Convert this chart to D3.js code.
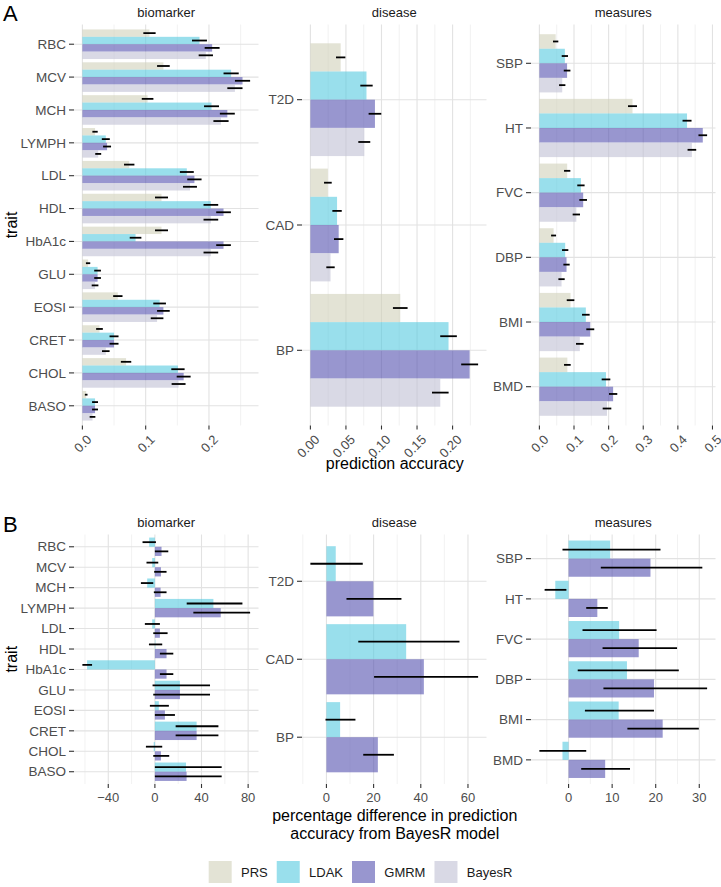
<!DOCTYPE html>
<html>
<head>
<meta charset="utf-8">
<script src="https://cdn.jsdelivr.net/npm/d3@7"></script>
<style>
  body { margin: 0; background: #fff; }
  text { font-family: "Liberation Sans", Arial, sans-serif; }
</style>
</head>
<body>
<svg id="chart" width="721" height="887"></svg>
<script>
// trait categories, top to bottom as shown
const bioTraits = ["RBC", "MCV", "MCH", "LYMPH", "LDL", "HDL", "HbA1c", "GLU", "EOSI", "CRET", "CHOL", "BASO"];
const diseaseTraits = ["T2D", "CAD", "BP"];
const measureTraits = ["SBP", "HT", "FVC", "DBP", "BMI", "BMD"];
const methods = ["PRS", "LDAK", "GMRM", "BayesR"];
const diffMethods = ["LDAK", "GMRM"];

// Panel A: prediction accuracy, one row per trait: [PRS, LDAK, GMRM, BayesR]
const bioAcc = [
  [0.106, 0.185, 0.205, 0.195], [0.128, 0.235, 0.253, 0.241], [0.103, 0.204, 0.229, 0.219],
  [0.020, 0.037, 0.039, 0.025], [0.074, 0.165, 0.177, 0.170], [0.125, 0.203, 0.223, 0.203],
  [0.125, 0.084, 0.223, 0.203], [0.009, 0.024, 0.024, 0.020], [0.056, 0.122, 0.128, 0.118],
  [0.027, 0.050, 0.050, 0.037], [0.069, 0.151, 0.160, 0.152], [0.006, 0.020, 0.020, 0.016]
];
const bioErr = [
  [0.0097, 0.0118, 0.0118, 0.0113], [0.010, 0.012, 0.012, 0.012], [0.0092, 0.0118, 0.0118, 0.012],
  [0.0042, 0.0063, 0.0063, 0.0047], [0.0082, 0.011, 0.0113, 0.011], [0.0103, 0.0116, 0.0116, 0.0116],
  [0.0103, 0.0092, 0.0116, 0.0116], [0.0034, 0.0053, 0.0053, 0.0053], [0.0074, 0.010, 0.010, 0.010],
  [0.0053, 0.0071, 0.0071, 0.006], [0.0082, 0.0105, 0.011, 0.011], [0.0021, 0.0047, 0.0047, 0.0045]
];
const diseaseAcc = [[0.0426, 0.0789, 0.0908, 0.0758], [0.0246, 0.0375, 0.0398, 0.0283], [0.1264, 0.1943, 0.224, 0.1827]];
const diseaseErr = [[0.0066, 0.0087, 0.0089, 0.0084], [0.0054, 0.0066, 0.0066, 0.0059], [0.0103, 0.0117, 0.0119, 0.0117]];
const measureAcc = [
  [0.047, 0.0736, 0.080, 0.066], [0.269, 0.4265, 0.472, 0.4405], [0.0803, 0.120, 0.1265, 0.1067],
  [0.041, 0.0745, 0.0784, 0.064], [0.090, 0.1342, 0.147, 0.1168], [0.0808, 0.1924, 0.213, 0.1953]
];
const measureErr = [
  [0.0077, 0.0091, 0.0096, 0.0091], [0.013, 0.013, 0.0125, 0.0125], [0.0091, 0.0106, 0.011, 0.0106],
  [0.0072, 0.0091, 0.0091, 0.0091], [0.011, 0.011, 0.0115, 0.011], [0.0096, 0.0125, 0.012, 0.0125]
];

// Panel B: % difference from BayesR, rows: [LDAK, GMRM], plus interval low / high
const bioDiff = [[-4.9, 5.7], [-2.3, 5.2], [-6.6, 4.9], [50.2, 56.5], [-2.3, 4.3], [0.4, 10],
  [-58.2, 10], [21.5, 21.5], [3.4, 8.6], [35.8, 35.8], [-1, 5.2], [26.7, 27.2]];
const bioDiffLo = [[-10.6, 0], [-7.2, -0.6], [-12, -0.9], [27.3, 33], [-8.6, -1.4], [-5.1, 4.3],
  [-62.2, 4.3], [-2, -1.4], [-4.3, 0], [17.8, 17.8], [-7.7, -1.4], [0, 0]];
const bioDiffHi = [[0.9, 11.5], [2.9, 10], [-1.4, 10], [75.1, 81.7], [4.3, 10.9], [6.3, 15.8],
  [-53.9, 15.8], [47.3, 47.3], [12, 17.2], [54.5, 54.5], [6.3, 12.3], [57.3, 57.3]];
const diseaseDiff = [[3.95, 19.9], [33.8, 41.3], [5.8, 21.8]];
const diseaseDiffLo = [[-6.8, 8.5], [13.5, 20.2], [-0.4, 15.6]];
const diseaseDiffHi = [[15.4, 31.8], [56.4, 64.3], [12.3, 28.6]];
const measureDiff = [[9.55, 18.8], [-3.05, 6.6], [11.6, 16.1], [13.4, 19.6], [11.5, 21.6], [-1.4, 8.4]];
const measureDiffLo = [[-1.4, 7.4], [-5.5, 4.05], [3.2, 7.8], [2.1, 8.0], [3.75, 13.5], [-6.7, 2.9]];
const measureDiffHi = [[21.1, 30.7], [-0.5, 9.0], [20.2, 24.9], [25.3, 31.8], [19.6, 29.9], [4.05, 14.1]];

// tick labels
const bioTicksA = [0, 0.1, 0.2];
const diseaseTicksA = [0, 0.05, 0.1, 0.15, 0.2];
const measureTicksA = [0, 0.1, 0.2, 0.3, 0.4, 0.5];
const bioTicksB = [-40, 0, 40, 80];
const diseaseTicksB = [0, 20, 40, 60];
const measureTicksB = [0, 10, 20, 30];

const colors = { PRS: "#d0d0b9", LDAK: "#55cadf", GMRM: "#5350af", BayesR: "#c0c0d4" };
const barOpacity = 0.6;

const svg = d3.select("#chart");
const colX = [74, 302, 531];
const panelW = 184.5;
const rowA = { top: 24.5, bottom: 425.5 };
const rowB = { top: 534.5, bottom: 784 };

function addErr(vals, errs, sign) {
  return vals.map((r, i) => r.map((v, j) => v + sign * errs[i][j]));
}

function drawPanel(cfg) {
  const g = svg.append("g");
  const y = d3.scalePoint().domain(cfg.traits).range([cfg.top, cfg.bottom]).padding(0.6);
  const step = y.step();
  const inner = d3.scaleBand().domain(cfg.keys).range([-0.45 * step, 0.45 * step]);
  const lo = Math.min(0, d3.min(cfg.lo.flat()));
  const hi = d3.max(cfg.hi.flat());
  const pad = (hi - lo) * 0.05;
  const x = d3.scaleLinear().domain([lo - pad, hi + pad]).range([cfg.left, cfg.left + panelW]);
  const [d0, d1] = x.domain();

  // grid
  const t = cfg.ticks, dt = t[1] - t[0];
  const minor = d3.range(t[0] - dt / 2, d1, dt).filter(v => v > d0);
  g.selectAll(".minor").data(minor).join("line")
    .attr("x1", d => x(d)).attr("x2", d => x(d))
    .attr("y1", cfg.top).attr("y2", cfg.bottom)
    .attr("stroke", "#e9e9e9").attr("stroke-width", 0.6);
  g.selectAll(".major").data(t).join("line")
    .attr("x1", d => x(d)).attr("x2", d => x(d))
    .attr("y1", cfg.top).attr("y2", cfg.bottom)
    .attr("stroke", "#e2e2e2").attr("stroke-width", 1.1);
  g.selectAll(".hgrid").data(cfg.traits).join("line")
    .attr("x1", cfg.left).attr("x2", cfg.left + panelW)
    .attr("y1", d => y(d)).attr("y2", d => y(d))
    .attr("stroke", "#e2e2e2").attr("stroke-width", 1.1);

  // bars
  const cells = [];
  cfg.traits.forEach((tr, i) => cfg.keys.forEach((k, j) => {
    cells.push({ tr, k, v: cfg.values[i][j], lo: cfg.lo[i][j], hi: cfg.hi[i][j] });
  }));
  g.selectAll(".bar").data(cells).join("rect")
    .attr("x", d => x(Math.min(0, d.v)))
    .attr("width", d => Math.abs(x(d.v) - x(0)))
    .attr("y", d => y(d.tr) + inner(d.k))
    .attr("height", inner.bandwidth())
    .attr("fill", d => colors[d.k]).attr("fill-opacity", barOpacity);
  g.selectAll(".err").data(cells).join("line")
    .attr("x1", d => x(d.lo)).attr("x2", d => x(d.hi))
    .attr("y1", d => y(d.tr) + inner(d.k) + inner.bandwidth() / 2)
    .attr("y2", d => y(d.tr) + inner(d.k) + inner.bandwidth() / 2)
    .attr("stroke", "#000").attr("stroke-width", 1.8);

  // y axis
  g.selectAll(".ytick").data(cfg.traits).join("line")
    .attr("x1", cfg.left - 5).attr("x2", cfg.left)
    .attr("y1", d => y(d)).attr("y2", d => y(d))
    .attr("stroke", "#333").attr("stroke-width", 1.1);
  g.selectAll(".ylab").data(cfg.traits).join("text")
    .attr("x", cfg.left - 8).attr("y", d => y(d)).attr("dy", "0.35em")
    .attr("text-anchor", "end").attr("font-size", 13.5).attr("fill", "#4d4d4d")
    .text(d => d);

  // x axis
  g.selectAll(".xtick").data(t).join("line")
    .attr("x1", d => x(d)).attr("x2", d => x(d))
    .attr("y1", cfg.bottom).attr("y2", cfg.bottom + 4)
    .attr("stroke", "#333").attr("stroke-width", 1.1);
  const lab = g.selectAll(".xlab").data(t).join("text")
    .attr("font-size", 13).attr("fill", "#4d4d4d")
    .text(d => cfg.fmt(d));
  if (cfg.rotate) {
    lab.attr("text-anchor", "end")
      .attr("transform", d => `translate(${x(d) + 10},${cfg.bottom + 15}) rotate(-45)`);
  } else {
    lab.attr("text-anchor", "middle").attr("x", d => x(d)).attr("y", cfg.bottom + 17.5);
  }

  // strip
  g.append("text").attr("x", cfg.left + panelW / 2).attr("y", cfg.top - 8)
    .attr("text-anchor", "middle").attr("font-size", 13).attr("fill", "#1a1a1a")
    .text(cfg.strip);
}

const fmtMinus = f => v => d3.format(f)(v).replace("-", "\u2212");

drawPanel({ traits: bioTraits, keys: methods, values: bioAcc, lo: addErr(bioAcc, bioErr, -1), hi: addErr(bioAcc, bioErr, 1),
  left: colX[0], ...rowA, ticks: bioTicksA, fmt: d3.format(".1f"), rotate: true, strip: "biomarker" });
drawPanel({ traits: diseaseTraits, keys: methods, values: diseaseAcc, lo: addErr(diseaseAcc, diseaseErr, -1), hi: addErr(diseaseAcc, diseaseErr, 1),
  left: colX[1], ...rowA, ticks: diseaseTicksA, fmt: d3.format(".2f"), rotate: true, strip: "disease" });
drawPanel({ traits: measureTraits, keys: methods, values: measureAcc, lo: addErr(measureAcc, measureErr, -1), hi: addErr(measureAcc, measureErr, 1),
  left: colX[2], ...rowA, ticks: measureTicksA, fmt: d3.format(".1f"), rotate: true, strip: "measures" });

drawPanel({ traits: bioTraits, keys: diffMethods, values: bioDiff, lo: bioDiffLo, hi: bioDiffHi,
  left: colX[0], ...rowB, ticks: bioTicksB, fmt: fmtMinus("d"), rotate: false, strip: "biomarker" });
drawPanel({ traits: diseaseTraits, keys: diffMethods, values: diseaseDiff, lo: diseaseDiffLo, hi: diseaseDiffHi,
  left: colX[1], ...rowB, ticks: diseaseTicksB, fmt: fmtMinus("d"), rotate: false, strip: "disease" });
drawPanel({ traits: measureTraits, keys: diffMethods, values: measureDiff, lo: measureDiffLo, hi: measureDiffHi,
  left: colX[2], ...rowB, ticks: measureTicksB, fmt: fmtMinus("d"), rotate: false, strip: "measures" });

// panel letters and axis titles
const midX = (colX[0] + colX[2] + panelW) / 2;
svg.append("text").attr("x", 3).attr("y", 21).attr("font-size", 22).text("A");
svg.append("text").attr("x", 3).attr("y", 532).attr("font-size", 22).text("B");
[rowA, rowB].forEach(r => {
  svg.append("text").attr("transform", `translate(16.5,${(r.top + r.bottom) / 2}) rotate(-90)`)
    .attr("text-anchor", "middle").attr("font-size", 16).text("trait");
});
svg.append("text").attr("x", midX).attr("y", 469).attr("text-anchor", "middle")
  .attr("font-size", 16).text("prediction accuracy");
svg.append("text").attr("x", midX).attr("y", 821).attr("text-anchor", "middle")
  .attr("font-size", 16).text("percentage difference in prediction");
svg.append("text").attr("x", midX).attr("y", 838.5).attr("text-anchor", "middle")
  .attr("font-size", 16).text("accuracy from BayesR model");

// legend
const leg = svg.append("g");
let lx = 0;
methods.forEach(m => {
  leg.append("rect").attr("x", lx).attr("y", 861).attr("width", 23).attr("height", 22)
    .attr("fill", colors[m]).attr("fill-opacity", barOpacity);
  const tx = leg.append("text").attr("x", lx + 32.3).attr("y", 877.3)
    .attr("font-size", 13).attr("fill", "#1a1a1a").text(m);
  lx += 32.3 + tx.node().getComputedTextLength() + 9;
});
leg.attr("transform", `translate(${360.5 - (lx - 9) / 2},0)`);
</script>
</body>
</html>
